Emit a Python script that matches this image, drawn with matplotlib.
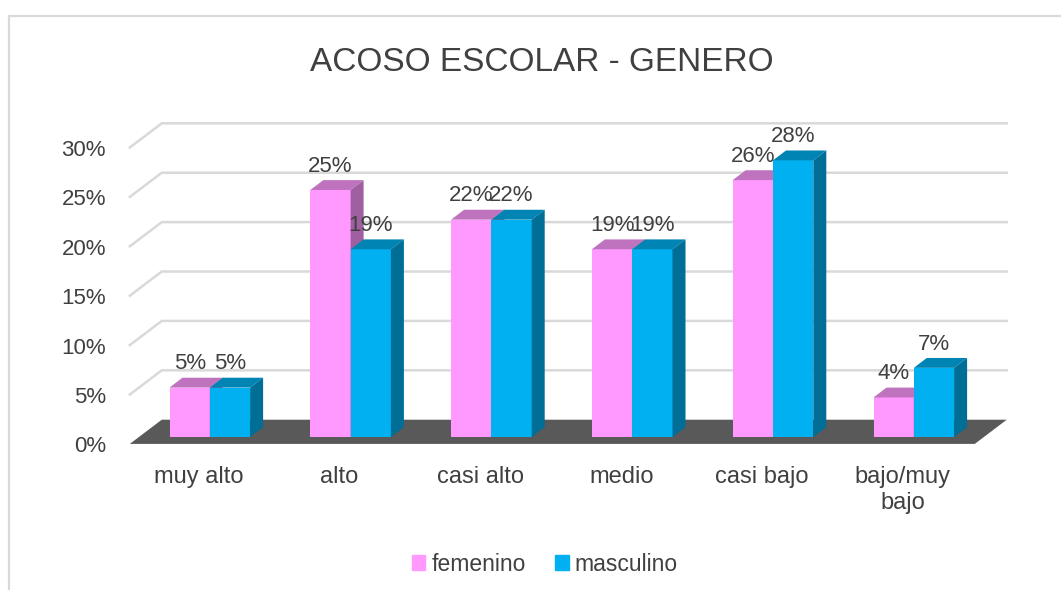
import matplotlib
matplotlib.use("Agg")
import matplotlib.pyplot as plt
from matplotlib.patches import Polygon, Patch

plt.rcParams['font.family'] = ['Liberation Sans', 'DejaVu Sans']

categorias = ["muy alto", "alto", "casi alto", "medio", "casi bajo", "bajo/muy\nbajo"]
femenino = [5, 25, 22, 19, 26, 4]
masculino = [5, 19, 22, 19, 28, 7]
y_ticks = [0, 5, 10, 15, 20, 25, 30]

# pixel scale of the front plane
px_x = 140.8
px_y = 9.88
W, H = 1061, 590
x0 = 209.8
y0 = 437

TEXT = "#404040"
GRID = "#D9D9D9"
# front, top, side
PINK = ("#FF99FF", "#BF73BF", "#A05FA0")
BLUE = ("#00B0F0", "#0084B4", "#006E96")

bar_w = 40.3 / px_x
dx = 13 / px_x
dy = 1.0

left_f, left_b = -0.568, -0.341
right_f, right_b = 5.433, 5.66
off_f, off_b = -0.7, 1.75


def draw_bar(ax, x, value, colors):
    ax.bar(x, value, width=bar_w, color=colors[0], align='edge', zorder=3)
    ax.add_patch(Polygon([(x, value), (x + dx, value + dy), (x + bar_w + dx, value + dy), (x + bar_w, value)],
                         color=colors[1], lw=0, zorder=3))
    ax.add_patch(Polygon([(x + bar_w, 0), (x + bar_w + dx, dy), (x + bar_w + dx, value + dy), (x + bar_w, value)],
                         color=colors[2], lw=0, zorder=3))


fig = plt.figure(figsize=(W / 100, H / 100), dpi=100)
ax = fig.add_axes([0, 0, 1, 1])
ax.set_xlim(-x0 / px_x, (W - x0) / px_x)
ax.set_ylim((y0 - H) / px_y, y0 / px_y)
ax.axis('off')

# outer frame of the chart
ax.plot([(9 - x0) / px_x, (9 - x0) / px_x, (W - x0) / px_x],
        [(y0 - H) / px_y, (y0 - 16) / px_y, (y0 - 16) / px_y], color=GRID, lw=1.6, zorder=1)

# gridlines and floor
for t in y_ticks[1:]:
    ax.plot([left_f, left_b, right_b], [t + off_f, t + off_b, t + off_b], color=GRID, lw=1.8, zorder=1)
    ax.text(left_f - 0.17, t + off_f - 0.3, f"{t}%", ha='right', va='center', fontsize=16, color=TEXT)
ax.text(left_f - 0.17, off_f - 0.3, "0%", ha='right', va='center', fontsize=16, color=TEXT)
ax.add_patch(Polygon([(left_f, off_f), (left_b, off_b), (right_b, off_b), (right_f, off_f)],
                     color="#595959", lw=0, zorder=2))

for i, cat in enumerate(categorias):
    draw_bar(ax, i - bar_w, femenino[i], PINK)
    draw_bar(ax, i, masculino[i], BLUE)
    ax.text(i - bar_w / 2, femenino[i] + 2.4, f"{femenino[i]}%", ha='center', va='center',
            fontsize=16, color=TEXT, zorder=5)
    ax.text(i + bar_w / 2, masculino[i] + 2.4, f"{masculino[i]}%", ha='center', va='center',
            fontsize=16, color=TEXT, zorder=5)
    ax.text(i - 11 / px_x, -2.95, cat, ha='center', va='top', fontsize=17, color=TEXT, linespacing=1.2)

ax.text(0.5104, 0.8945, "ACOSO ESCOLAR - GENERO", transform=ax.transAxes, ha='center', va='center',
        fontsize=24, color=TEXT)

handles = [Patch(color=PINK[0], label="femenino"), Patch(color=BLUE[0], label="masculino")]
ax.legend(handles=handles, ncol=2, loc='center', bbox_to_anchor=(0.5135, 0.044), frameon=False,
          fontsize=16.5, labelcolor=TEXT, handlelength=0.6, handleheight=0.6,
          handletextpad=0.25, columnspacing=1.3)

fig.savefig("out.png", dpi=100)
